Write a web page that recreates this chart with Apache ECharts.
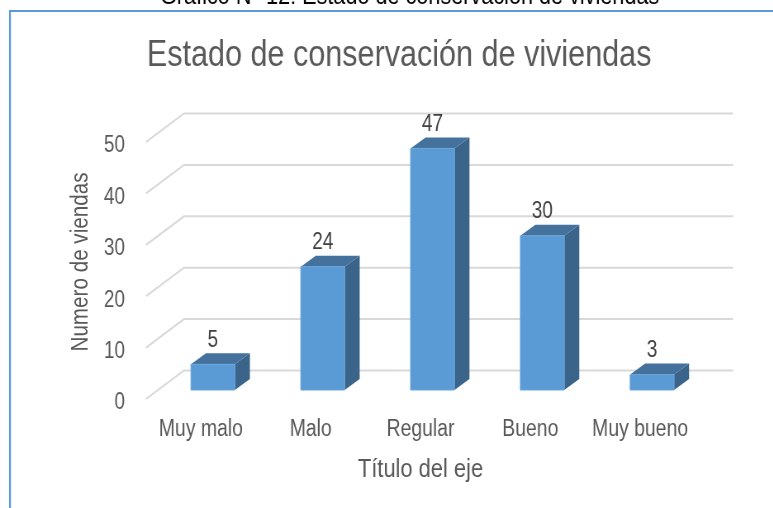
<!DOCTYPE html>
<html><head><meta charset="utf-8">
<style>html,body{margin:0;padding:0;background:#fff;overflow:hidden;width:773px;height:508px}
#c{width:936px;height:508px;transform:scaleX(0.826);transform-origin:0 0}</style>
<script src="https://cdn.jsdelivr.net/npm/echarts@6/dist/echarts.min.js"></script>
</head><body><div id="c"></div>
<script>
const categories = ['Muy malo','Malo','Regular','Bueno','Muy bueno'];
const values = [5,24,47,30,3];
const yTicks = [0,10,20,30,40,50];
const caption = 'Gráfico N° 12: Estado de conservación de viviendas';
const chartTitle = 'Estado de conservación de viviendas';
const xName = 'Título del eje';
const yName = 'Numero de viendas';

const S = 0.826;               // the reference uses a narrow typeface: the page is condensed horizontally
const sx = x => x / S;
const FONT = '"Liberation Sans", Arial, sans-serif';
const TEXT = '#595959';
// oblique projection of the 3D chart
const WALL = [sx(38), -28.5];
const BAR_OFF = [sx(12), -9];
const BAR_DEPTH = [sx(15), -11];

const chart = echarts.init(document.getElementById('c'), null, {renderer:'canvas'});
chart.setOption({
  animation:false,
  backgroundColor:'#ffffff',
  title:[
    {text:caption,left:sx(405.5),textAlign:'center',top:-21,textStyle:{fontFamily:FONT,fontSize:26.2,fontWeight:'normal',color:'#000'}},
    {text:chartTitle,left:sx(395),textAlign:'center',top:32,textStyle:{fontFamily:FONT,fontSize:37,fontWeight:'normal',color:TEXT}}
  ],
  graphic:[
    {type:'rect',silent:true,z:-10,shape:{x:sx(10),y:11,width:1000,height:600},style:{fill:'#fff',stroke:'#5b9bd5',lineWidth:2.2}},
    {type:'text',silent:true,x:sx(80.5),y:262,rotation:Math.PI/2,scaleX:S,scaleY:1.2,
     style:{text:yName,align:'center',verticalAlign:'middle',font:'25px '+FONT,fill:TEXT}}
  ],
  grid:{left:sx(146),top:142,width:sx(549),height:257,containLabel:false},
  xAxis:{type:'category',data:categories,name:xName,nameLocation:'middle',nameGap:57,
    nameTextStyle:{fontFamily:FONT,fontSize:26.5,color:TEXT},
    axisLine:{show:false},axisTick:{show:false},splitLine:{show:false},
    axisLabel:{fontFamily:FONT,fontSize:23.5,color:TEXT,margin:19,interval:0}},
  yAxis:{type:'value',min:0,max:50,interval:10,
    axisLine:{show:false},axisTick:{show:false},splitLine:{show:false},
    axisLabel:{margin:sx(21),formatter:'{t|{value}}',
      rich:{t:{fontFamily:FONT,fontSize:23,color:TEXT,padding:[8,0,0,0]}}}},
  series:[
    {type:'custom',silent:true,z:1,data:yTicks.map(v=>[0,v]),encode:{x:0,y:1},
     renderItem(params,api){
       const y=api.coord([0,api.value(1)])[1], g=params.coordSys, x0=g.x, x1=g.x+g.width;
       const st={stroke:'#d9d9d9',lineWidth:2,fill:null};
       return {type:'polyline',shape:{points:[[x0,y],[x0+WALL[0],y+WALL[1]],[x1+WALL[0],y+WALL[1]]]},style:st};
     }},
    {type:'custom',z:2,data:values.map((v,i)=>[i,v]),encode:{x:0,y:1},
     renderItem(params,api){
       const v=api.value(1), p=api.coord([api.value(0),v]), b=api.coord([api.value(0),0]);
       const w=api.size([1,0])[0]*0.4;
       const l=p[0]-w/2+BAR_OFF[0], r=l+w, t=p[1]+BAR_OFF[1], bt=b[1]+BAR_OFF[1];
       const dx=BAR_DEPTH[0], dy=BAR_DEPTH[1];
       return {type:'group',children:[
         {type:'polygon',shape:{points:[[r,t],[r+dx,t+dy],[r+dx,bt+dy],[r,bt]]},style:{fill:'#3a6489'}},
         {type:'polygon',shape:{points:[[l,t],[l+dx,t+dy],[r+dx,t+dy],[r,t]]},style:{fill:'#44729d'}},
         {type:'rect',shape:{x:l,y:t,width:w,height:bt-t},style:{fill:'#5b9bd5',stroke:'#6aa5da',lineWidth:1}},
         {type:'text',style:{text:String(v),x:(l+r)/2,y:t+dy-13,align:'center',verticalAlign:'middle',
           font:'23px '+FONT,fill:'#404040'}}
       ]};
     }}
  ]
});
</script></body></html>
